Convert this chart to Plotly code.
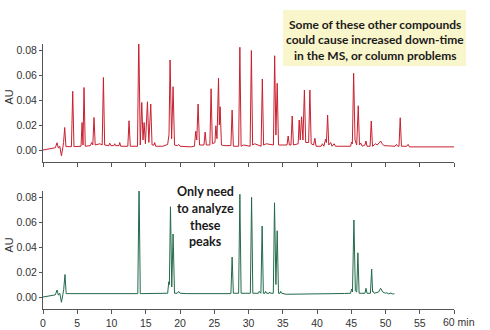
import plotly.graph_objects as go

# ---- data ----
top_time = [0.0, 1.0, 1.8, 2.05, 2.25, 2.45, 2.69, 2.9, 3.0, 3.17, 3.35, 4.15, 4.34, 4.52,
            5.55, 5.70, 5.84, 5.99, 6.17, 6.9, 7.1, 7.27, 7.45, 7.62, 8.0, 8.3, 8.64, 8.82, 9.0,
            9.6, 9.74, 9.9, 10.35, 10.47, 10.6, 11.1, 11.2, 11.35, 12.38, 12.56, 12.74,
            13.8, 13.98, 14.2, 14.42, 14.6, 14.76, 14.95, 15.25, 15.45, 15.73, 15.92, 16.2, 16.3,
            16.45, 17.5, 18.2, 18.4, 18.55, 18.78, 18.99, 19.2, 19.6, 19.8, 20.0, 21.5,
            22.1, 22.3, 22.45, 22.64, 22.85, 23.5, 23.67, 23.85, 24.36, 24.54, 24.72,
            25.1, 25.23, 25.4, 25.62, 25.74, 25.86, 26.05, 26.4, 27.43, 27.61, 27.79,
            28.56, 28.74, 28.92, 29.3, 30.24, 30.42, 30.6, 30.9, 31.84, 32.02, 32.2, 32.6,
            33.64, 33.82, 34.0, 34.19, 34.38, 34.8, 35.62, 35.79, 35.97, 36.2, 36.38, 36.56,
            37.25, 37.4, 37.55, 37.75, 37.95, 38.16, 38.35, 38.78, 38.96, 39.15, 39.5, 39.69,
            39.86, 40.6, 40.8, 41.0, 41.26, 41.38, 41.55, 41.72, 42.0, 42.2, 42.5, 42.7,
            44.9, 45.05, 45.16, 45.35, 45.55, 45.8, 46.02, 46.2, 46.4, 46.6, 47.0, 47.15, 47.3,
            47.75, 47.92, 48.1, 48.56, 48.8, 49.1, 49.29, 49.5, 49.8, 51.4, 51.6, 51.8,
            51.97, 52.15, 52.33, 53.1, 53.3, 53.5, 60.0]
top_au = [0.000, 0.0012, 0.0018, 0.0058, 0.0015, 0.003, -0.0046, 0.002, 0.006, 0.018, 0.0027, 0.0027, 0.047, 0.0027,
          0.003, 0.022, 0.004, 0.050, 0.003, 0.0035, 0.006, 0.004, 0.026, 0.004, 0.0045, 0.005, 0.004, 0.058, 0.004,
          0.0035, 0.0055, 0.0035, 0.0035, 0.005, 0.0035, 0.0035, 0.006, 0.003, 0.003, 0.0234, 0.003,
          0.003, 0.092, 0.004, 0.038, 0.008, 0.022, 0.005, 0.0386, 0.006, 0.0368, 0.004, 0.004, 0.006,
          0.003, 0.003, 0.0045, 0.0126, 0.072, 0.009, 0.0506, 0.004, 0.0035, 0.0045, 0.003, 0.0025,
          0.003, 0.015, 0.008, 0.0368, 0.004, 0.004, 0.0144, 0.004, 0.004, 0.049, 0.005,
          0.006, 0.0194, 0.009, 0.0574, 0.020, 0.0346, 0.004, 0.0035, 0.0035, 0.032, 0.003,
          0.003, 0.0822, 0.003, 0.004, 0.003, 0.0796, 0.004, 0.005, 0.003, 0.0568, 0.004, 0.005,
          0.004, 0.0754, 0.012, 0.0534, 0.004, 0.004, 0.004, 0.0112, 0.004, 0.004, 0.0272, 0.004,
          0.005, 0.024, 0.008, 0.0266, 0.008, 0.048, 0.006, 0.006, 0.048, 0.005, 0.004, 0.0094,
          0.003, 0.003, 0.005, 0.003, 0.0088, 0.006, 0.028, 0.004, 0.006, 0.003, 0.005, 0.003,
          0.003, 0.0064, 0.005, 0.0614, 0.008, 0.004, 0.0354, 0.004, 0.0055, 0.003, 0.004, 0.0072, 0.003,
          0.003, 0.0232, 0.003, 0.005, 0.004, 0.0065, 0.0072, 0.005, 0.0035, 0.003, 0.0045, 0.003,
          0.003, 0.0258, 0.003, 0.003, 0.0045, 0.0025, 0.0025]

bottom_time = [0.0, 1.0, 1.8, 2.05, 2.25, 2.45, 2.69, 2.9, 3.02, 3.21, 3.38, 13.84, 14.02, 14.2,
               18.2, 18.36, 18.45, 18.61, 18.8, 18.99, 19.2, 19.6, 19.8, 20.0, 21.0,
               27.43, 27.61, 27.79, 28.56, 28.74, 28.92, 30.27, 30.45, 30.63, 31.45, 31.56, 31.7,
               31.81, 31.99, 32.17, 32.4, 32.5, 32.65, 33.0, 33.1, 33.2, 33.62, 33.8, 34.0, 34.19,
               34.38, 34.6, 34.7, 34.85, 35.5, 43.3, 44.0, 44.9, 45.05, 45.18, 45.39, 45.6, 45.8,
               45.97, 46.15, 47.0, 47.15, 47.3, 47.8, 47.98, 48.12, 48.2, 48.35, 49.0, 49.29, 49.6,
               50.0, 50.2, 50.4, 50.8, 51.0, 51.3]
bottom_au = [0.000, 0.0012, 0.0017, 0.0056, 0.0015, 0.003, -0.0042, 0.002, 0.006, 0.018, 0.0027, 0.0027, 0.0918, 0.0027,
             0.003, 0.0122, 0.010, 0.0722, 0.008, 0.0504, 0.003, 0.003, 0.0045, 0.003, 0.0027,
             0.0027, 0.032, 0.003, 0.003, 0.0822, 0.003, 0.003, 0.0798, 0.003, 0.003, 0.0045, 0.003,
             0.003, 0.0568, 0.003, 0.003, 0.0045, 0.003, 0.003, 0.004, 0.003, 0.003, 0.0754, 0.010, 0.053,
             0.003, 0.003, 0.0045, 0.003, 0.0022, 0.0022, 0.0028, 0.003, 0.0064, 0.004, 0.0616, 0.005, 0.004,
             0.0354, 0.003, 0.003, 0.007, 0.003, 0.003, 0.0224, 0.004, 0.0045, 0.003, 0.004, 0.007, 0.004,
             0.003, 0.0035, 0.0025, 0.0032, 0.0025, 0.0025]

x_ticks = [0, 5, 10, 15, 20, 25, 30, 35, 40, 45, 50, 55, 60]
x_ticktext = ["0", "5", "10", "15", "20", "25", "30", "35", "40", "45", "50", "55", ""]
y_ticks = [0.00, 0.02, 0.04, 0.06, 0.08]
y_ticktext = ["0.00", "0.02", "0.04", "0.06", "0.08"]

note_top = ["Some of these other compounds", "could cause increased down-time", "in the MS, or column problems"]
note_bottom = ["Only need", "to analyze", "these", "peaks"]

# ---- layout geometry ----
W, H = 490, 330
ML, MR, MT, MB = 43, 36, 44, 21
PW, PH = W - ML - MR, H - MT - MB


def px_x(x):
    return (x - ML) / PW


def px_y(y):
    return (H - MB - y) / PH


fig = go.Figure()
fig.add_trace(go.Scatter(x=top_time, y=top_au, mode="lines", xaxis="x", yaxis="y",
                         line=dict(color="#c8202f", width=1), hoverinfo="skip", showlegend=False))
fig.add_trace(go.Scatter(x=bottom_time, y=bottom_au, mode="lines", xaxis="x2", yaxis="y2",
                         line=dict(color="#236a4c", width=1), hoverinfo="skip", showlegend=False))

axis_col = "#555555"
tickfont = dict(family="Liberation Sans, Arial, sans-serif", size=10.5, color="#333333")
common_x = dict(range=[0, 60], tickvals=x_ticks, showline=True, linecolor=axis_col, linewidth=1,
                ticks="outside", ticklen=4, tickcolor=axis_col, showgrid=False, zeroline=False,
                tickfont=tickfont, automargin=False)
common_y = dict(range=[-0.0096, 0.0848], tickvals=y_ticks, ticktext=y_ticktext, showline=True,
                linecolor=axis_col, linewidth=1, ticks="outside", ticklen=3, tickcolor=axis_col,
                showgrid=False, zeroline=False, tickfont=tickfont, automargin=False)

top_dom = [px_y(162), 1.0]
bot_dom = [0.0, px_y(191)]

fig.update_layout(
    width=W, height=H, margin=dict(l=ML, r=MR, t=MT, b=MB, autoexpand=False),
    paper_bgcolor="white", plot_bgcolor="rgba(0,0,0,0)",
    xaxis=dict(common_x, anchor="y", showticklabels=False, domain=[0, 1]),
    yaxis=dict(common_y, anchor="x", domain=top_dom),
    xaxis2=dict(common_x, anchor="y2", ticktext=x_ticktext, domain=[0, 1]),
    yaxis2=dict(common_y, anchor="x2", domain=bot_dom),
)

annots = []
# axis titles
for yc in (97, 245):
    annots.append(dict(text="AU", xref="paper", yref="paper", x=px_x(8.5), y=px_y(yc),
                       textangle=-90, showarrow=False, xanchor="center", yanchor="middle",
                       font=dict(family="Liberation Sans, Arial, sans-serif", size=11, color="#333333")))
annots.append(dict(text="60 min", xref="x2", yref="paper", x=60, y=px_y(321.5), xshift=5,
                   showarrow=False, xanchor="center", yanchor="middle", font=tickfont))

note_font_top = dict(family="Lato, Roboto, sans-serif", size=12, color="#1a1a1a")
note_font_bot = dict(family="Lato, Roboto, sans-serif", size=12.5, color="#1a1a1a")
for txt, yc in zip(note_top, (24, 39.3, 55)):
    annots.append(dict(text="<b>" + txt + "</b>", xref="paper", yref="paper", x=px_x(375), y=px_y(yc),
                       showarrow=False, xanchor="center", yanchor="middle", font=note_font_top))
for txt, yc in zip(note_bottom, (191.7, 208.3, 225, 241.7)):
    annots.append(dict(text="<b>" + txt + "</b>", xref="paper", yref="paper", x=px_x(205), y=px_y(yc),
                       showarrow=False, xanchor="center", yanchor="middle", font=note_font_bot))
fig.update_layout(annotations=annots)

fig.add_shape(type="rect", xref="paper", yref="paper", x0=px_x(283), x1=px_x(466),
              y0=px_y(66), y1=px_y(10), fillcolor="#faf6cb", line=dict(width=0), layer="below")

fig.write_html("out.html")
